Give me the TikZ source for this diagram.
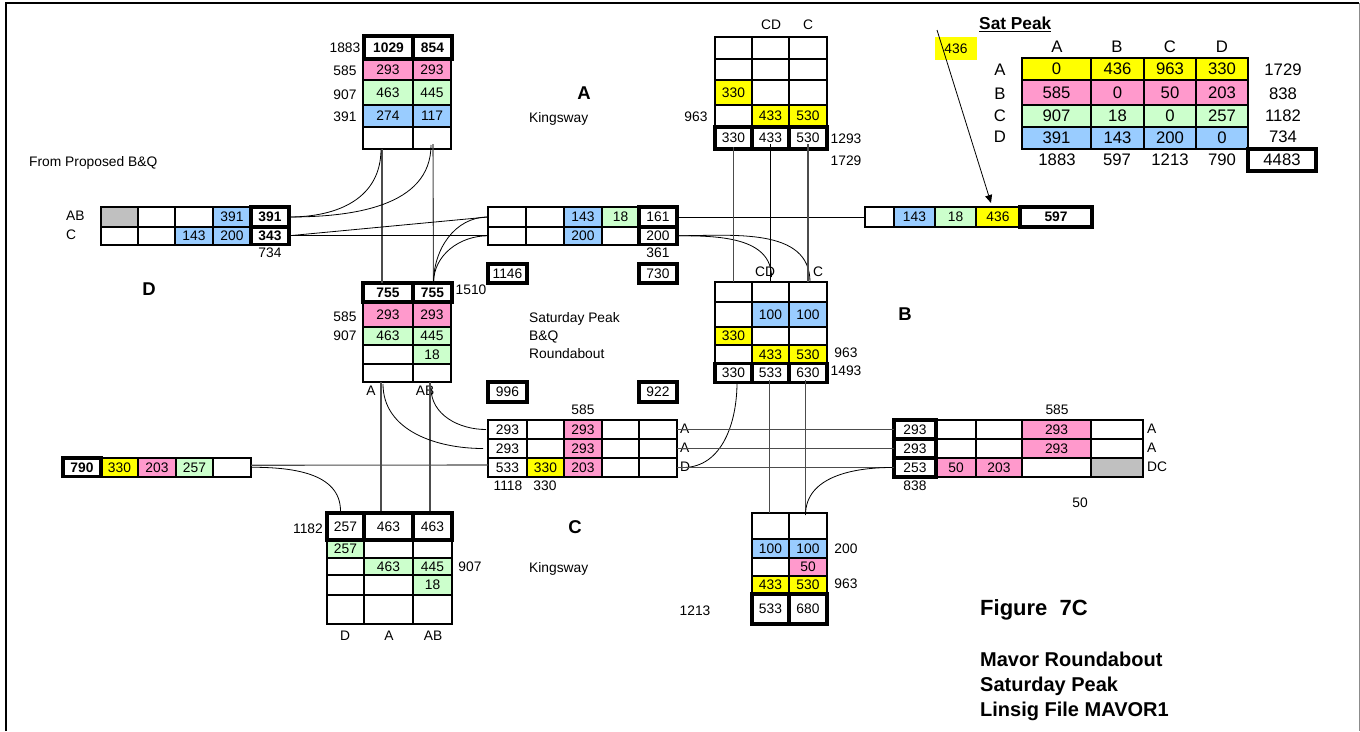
\documentclass[tikz,border=0pt]{standalone}
\usepackage{fontspec}
\setmainfont{Liberation Sans}
\usetikzlibrary{arrows.meta,calc}

\definecolor{pnk}{HTML}{FF99CC}
\definecolor{grn}{HTML}{CCFFCC}
\definecolor{blu}{HTML}{99CCFF}
\definecolor{yel}{HTML}{FFFF00}
\definecolor{gry}{HTML}{C0C0C0}

% one row of a flow table: name, top, bottom, then left/right/fill/text per cell
\newcommand{\trow}[5][]{%
  \foreach \xa/\xb/\fc/\txt [count=\i] in {#5}{%
    \pgfmathsetmacro{\cellw}{\xb-\xa}%
    \pgfmathsetmacro{\cellh}{#4-#3}%
    \node[cell,#1,fill=\fc,minimum width=\cellw pt,minimum height=\cellh pt]
      (#2\i) at ({(\xa+\xb)/2},{(#3+#4)/2}) {\txt};
  }%
}

\begin{document}
\begin{tikzpicture}[
  x=1pt, y=-1pt,
  font=\fontsize{13.8}{15}\selectfont,
  cell/.style={draw, line width=2pt, inner sep=0pt, outer sep=0pt},
  thk/.style={line width=3.3pt},
  note/.style={inner sep=0pt},
  lft/.style={inner sep=0pt, anchor=west, text depth=0pt},
  big/.style={inner sep=0pt, font=\fontsize{16.7}{18}\selectfont},
  arm/.style={inner sep=0pt, font=\fontsize{18.5}{20}\selectfont\bfseries},
  ttl/.style={inner sep=0pt, anchor=west, text depth=0pt, font=\fontsize{20}{22}\selectfont\bfseries},
  link/.style={line width=0.8pt},
  linkg/.style={line width=1.1pt, black!70}
]
\useasboundingbox (0,0) rectangle (1360,731);
\draw[line width=2pt] (5.5,731) -- (5.5,3) -- (1359,3);
\draw[line width=1pt, black!45] (1359,3) -- (1359,731);

% north arm, left
\trow{nl2}{59}{80}{363/413/pnk/293, 413/451/pnk/293}
\trow{nl3}{80}{105}{363/413/grn/463, 413/451/grn/445}
\trow{nl4}{105}{127}{363/413/blu/274, 413/451/blu/117}
\trow{nl5}{127}{149}{363/413/white/{}, 413/451/white/{}}
\trow[thk]{nl1}{36}{59}{364/413/white/\textbf{1029}, 413/452/white/\textbf{854}}
\node[note] (lnl1) at (345,48) {1883};
\node[note] (lnl2) at (345,71) {585};
\node[note] (lnl3) at (345,95) {907};
\node[note] (lnl4) at (345,117) {391};

% north arm, right
\trow{nr1}{37}{59}{715/752/white/{}, 752/789/white/{}, 789/827/white/{}}
\trow{nr2}{59}{80}{715/752/white/{}, 752/789/white/{}, 789/827/white/{}}
\trow{nr3}{80}{105}{715/752/yel/330, 752/789/white/{}, 789/827/white/{}}
\trow{nr4}{105}{127}{715/752/white/{}, 752/789/yel/433, 789/827/yel/530}
\trow[thk]{nr5}{127}{149}{715/752/white/330, 752/789/white/433, 789/827/white/530}
\node[note] (lnr1) at (771,25) {CD};
\node[note] (lnr2) at (808,25) {C};
\node[note] (lnr3) at (696,117) {963};
\node[note] (lnr4) at (846,139) {1293};
\node[note] (lnr5) at (846,161) {1729};

\node[arm] (armA) at (584,93) {A};
\node[lft] (kwA) at (529,117) {Kingsway};
\node[lft] (frm) at (29,161) {From Proposed B\&Q};

% west arm
\trow{wa1}{207}{227}{101/138/gry/{}, 138/175/white/{}, 175/213/white/{}, 213/251/blu/391}
\trow{wa2}{227}{244.5}{101/138/white/{}, 138/175/white/{}, 175/213/blu/143, 213/251/blu/200}
\trow[thk]{wa15}{207}{227}{251/289/white/\textbf{391}}
\trow[thk]{wa25}{227}{244.5}{251/289/white/\textbf{343}}
\node[lft] (lwa1) at (66,216) {AB};
\node[lft] (lwa2) at (66,235) {C};
\node[note] (lwa3) at (270,253) {734};
\node[arm] (armD) at (149,289) {D};

% middle row
\trow{ma1}{207}{227}{488/526/white/{}, 526/564/white/{}, 564/602/blu/143, 602/639/grn/18}
\trow{ma2}{227}{244.5}{488/526/white/{}, 526/564/white/{}, 564/602/blu/200, 602/639/white/{}}
\trow[thk]{ma15}{207}{227}{639/677/white/161}
\trow[thk]{ma25}{227}{244.5}{639/677/white/200}
\node[note] (lma) at (658,253) {361};

% east arm
\trow{ea1}{207}{227}{865/894/white/{}, 894/935/blu/143, 935/976/grn/18, 976/1020/yel/436}
\trow[thk]{ea15}{207}{227}{1020/1092/white/\textbf{597}}

% junction boxes
\trow[thk]{bxa}{264}{283}{488/527/white/1146}
\trow[thk]{bxb}{264}{283}{639/677/white/730}
\trow[thk]{bxc}{382}{402}{488/527/white/996}
\trow[thk]{bxd}{382}{402}{639/677/white/922}

% centre, left
\trow{cl2}{302}{327}{363/413/pnk/293, 413/451/pnk/293}
\trow{cl3}{327}{345}{363/413/grn/463, 413/451/grn/445}
\trow{cl4}{345}{364}{363/413/white/{}, 413/451/grn/18}
\trow{cl5}{364}{382}{363/413/white/{}, 413/451/white/{}}
\trow[thk]{cl1}{283}{302}{363/413/white/\textbf{755}, 413/452/white/\textbf{755}}
\node[note] (lcl1) at (345,317) {585};
\node[note] (lcl2) at (345,336) {907};
\node[note] (lcl3) at (471,290) {1510};
\node[note] (lcl4) at (371,391) {A};
\node[note] (lcl5) at (425,391) {AB};
\node[lft] (sat1) at (529,317) {Saturday Peak};
\node[lft] (sat2) at (529,336) {B\&Q};
\node[lft] (sat3) at (529,353) {Roundabout};

% centre, right
\trow{cr1}{282}{302}{715/752/white/{}, 752/789/white/{}, 789/827/white/{}}
\trow{cr2}{302}{327}{715/752/white/{}, 752/789/blu/100, 789/827/blu/100}
\trow{cr3}{327}{345}{715/752/yel/330, 752/789/white/{}, 789/827/white/{}}
\trow{cr4}{345}{363.5}{715/752/white/{}, 752/789/yel/433, 789/827/yel/530}
\trow[thk]{cr5}{363.5}{382.5}{715/752/white/330, 752/789/white/533, 789/827/white/630}
\node[note] (lcr1) at (765,272) {CD};
\node[note] (lcr2) at (818,272) {C};
\node[note] (lcr3) at (846,353) {963};
\node[note] (lcr4) at (846,371) {1493};
\node[arm] (armB) at (905,314) {B};

% south row, middle
\trow{sm1}{420}{439}{488/527/white/293, 527/564/white/{}, 564/602/pnk/293, 602/639/white/{}, 639/677/white/{}}
\trow{sm2}{439}{458}{488/527/white/293, 527/564/white/{}, 564/602/pnk/293, 602/639/white/{}, 639/677/white/{}}
\trow{sm3}{458}{477}{488/527/white/533, 527/564/yel/330, 564/602/pnk/203, 602/639/white/{}, 639/677/white/{}}
\node[note] (lsm1) at (583,410) {585};
\node[lft] (lsm2) at (680,429) {A};
\node[lft] (lsm3) at (680,448) {A};
\node[lft] (lsm4) at (680,467) {D};
\node[note] (lsm5) at (508,486) {1118};
\node[note] (lsm6) at (545,486) {330};

% south row, east
\trow{se1}{420}{439}{936/976/white/{}, 976/1022/white/{}, 1022/1091/pnk/293, 1091/1143/white/{}}
\trow{se2}{439}{458}{936/976/white/{}, 976/1022/white/{}, 1022/1091/pnk/293, 1091/1143/white/{}}
\trow{se3}{458}{477}{936/976/pnk/50, 976/1022/pnk/203, 1022/1091/white/{}, 1091/1143/gry/{}}
\trow[thk]{se11}{420}{439}{894/936/white/293}
\trow[thk]{se21}{439}{458}{894/936/white/293}
\trow[thk]{se31}{458}{477}{894/936/white/253}
\node[note] (lse1) at (1057,410) {585};
\node[lft] (lse2) at (1147,429) {A};
\node[lft] (lse3) at (1147,448) {A};
\node[lft] (lse4) at (1147,467) {DC};
\node[note] (lse5) at (915,486) {838};
\node[note] (lse6) at (1080,503) {50};

% west row, lower
\trow{wb1}{458}{476.5}{101/138/yel/330, 138/176/pnk/203, 176/213/grn/257, 213/251/white/{}}
\trow[thk]{wb0}{458}{476.5}{63/101/white/\textbf{790}}

% south arm, left
\trow{sl2}{540}{558}{327/364/grn/257, 364/413/white/{}, 413/452/white/{}}
\trow{sl3}{558}{575}{327/364/white/{}, 364/413/grn/463, 413/452/grn/445}
\trow{sl4}{575}{595}{327/364/white/{}, 364/413/white/{}, 413/452/grn/18}
\trow{sl5}{595}{624}{327/364/white/{}, 364/413/white/{}, 413/452/white/{}}
\trow[thk]{sl1}{513}{540}{327/364/white/257, 364/413/white/463, 413/452/white/463}
\node[note] (lsl1) at (308,529) {1182};
\node[note] (lsl2) at (470,567) {907};
\node[note] (lsl3) at (345,636) {D};
\node[note] (lsl4) at (389,636) {A};
\node[note] (lsl5) at (433,636) {AB};
\node[arm] (armC) at (575,527) {C};
\node[lft] (kwC) at (529,567) {Kingsway};

% south arm, right
\trow{sr1}{513}{539}{752/789/white/{}, 789/827/white/{}}
\trow{sr2}{539}{558}{752/789/blu/100, 789/827/blu/100}
\trow{sr3}{558}{576}{752/789/white/{}, 789/827/pnk/50}
\trow{sr4}{576}{594}{752/789/yel/433, 789/827/yel/530}
\trow[thk]{sr5}{594}{624}{752/789/white/533, 789/827/white/680}
\node[note] (lsr1) at (846,549) {200};
\node[note] (lsr2) at (846,584) {963};
\node[note] (lsr3) at (695,611) {1213};

% sat peak matrix
\node[inner sep=0pt, anchor=west, font=\fontsize{17.3}{19}\selectfont\bfseries]
  (sph) at (979,24) {\underline{Sat Peak}};
\node[fill=yel, minimum width=42pt, minimum height=23pt, inner sep=0pt] (yq) at (956,48.5) {436};
\begin{scope}[font=\fontsize{16.7}{18}\selectfont]
\trow{sp1}{58}{80}{1022/1091/yel/0, 1091/1144/yel/436, 1144/1196/yel/963, 1196/1248/yel/330}
\trow{sp2}{80}{105}{1022/1091/pnk/585, 1091/1144/pnk/0, 1144/1196/pnk/50, 1196/1248/pnk/203}
\trow{sp3}{105}{127}{1022/1091/grn/907, 1091/1144/grn/18, 1144/1196/grn/0, 1196/1248/grn/257}
\trow{sp4}{127}{149}{1022/1091/blu/391, 1091/1144/blu/143, 1144/1196/blu/200, 1196/1248/blu/0}
\trow[thk]{sp5}{149}{171}{1248/1316/white/4483}
\foreach \nm/\xp in {A/1057, B/1117, C/1170, D/1222}{
  \node[big] (ch\nm) at (\xp,47) {\nm};
}
\foreach \nm/\yp/\tot in {A/70/1729, B/94/838, C/116/1182, D/137/734}{
  \node[big] (rh\nm) at (1000,\yp) {\nm};
  \node[big] (rt\nm) at (1283,\yp) {\tot};
}
\foreach \tot/\xp in {1883/1057, 597/1117, 1213/1170, 790/1222}{
  \node[big] (ct\tot) at (\xp,160) {\tot};
}
\end{scope}

% title
\node[ttl, font=\fontsize{22}{24}\selectfont\bfseries] (fig) at (980,608) {Figure~~7C};
\node[ttl] (tt1) at (980,659) {Mavor Roundabout};
\node[ttl] (tt2) at (980,684) {Saturday Peak};
\node[ttl] (tt3) at (980,709) {Linsig File MAVOR1};

% connectors
\draw[linkg] ([xshift=-6pt]nl51.south) -- ([xshift=-6pt]cl11.north);
\draw[linkg] ([xshift=1pt,yshift=5pt]nl52.south) -- ([xshift=1pt]cl12.north);
\draw[link] (wa151.east) to[out=0,in=-90,looseness=1.1] ([xshift=-7pt]nl51.south);
\draw[link] (wa151.east) to[out=0,in=-90] ([xshift=-1pt,yshift=4pt]nl52.south);
\draw[link] (wa251.east) -- (ma11.west);
\draw[link] (wa251.east) -- (ma21.west);
\draw[link] ([xshift=1pt]cl12.north) to[out=90,in=180] (ma11.west);
\draw[link] ([xshift=1pt]cl12.north) to[out=90,in=180] (ma21.west);
\draw[link] (ma151.east) -- (ea11.west);
\draw[link] (ma251.east) to[out=0,in=90] ([xshift=1pt,yshift=5pt]cr12.north);
\draw[link] (ma251.east) to[out=0,in=90] ([xshift=2pt]cr13.north);
\draw[linkg] ([yshift=2pt]nr51.south) -- (cr11.north);
\draw[link] ([yshift=5pt]nr52.south) -- (cr12.north);
\draw[linkg] ([yshift=5pt]nr53.south) -- (cr13.north);
\draw[linkg] ([xshift=-7pt]cl51.south) -- ([xshift=-7.5pt,yshift=2pt]sl12.north);
\draw[linkg] ([xshift=-2pt]cl52.south) -- ([xshift=-2.5pt,yshift=2pt]sl13.north);
\draw[link] ([xshift=-5pt,yshift=-2pt]cl51.south) to[out=-90,in=180] ([xshift=-5pt]sm21.west);
\draw[link] ([xshift=-1pt,yshift=-6pt]cl52.south) to[out=-90,in=180] ([xshift=-2pt]sm11.west);
\draw[link] ([xshift=3.5pt]cr51.south) to[out=-90,in=0] ([xshift=6pt]sm35.east);
\draw[linkg] (sm15.east) -- (se111.west);
\draw[linkg] (sm25.east) -- (se211.west);
\draw[linkg] (sm35.east) -- (se311.west);
\draw[linkg] ([yshift=2pt]wb14.east) -- ([yshift=2.5pt]sm31.west);
\draw[link] (wb14.east) to[out=0,in=90] ([xshift=-5pt,yshift=2pt]sl11.north);
\draw[linkg] ([xshift=-1pt,yshift=3pt]cr52.south) -- ([xshift=-1pt]sr11.north);
\draw[linkg] ([xshift=-2.5pt,yshift=3pt]cr53.south) -- ([xshift=-2.5pt,yshift=-2pt]sr12.north);
\draw[link] ([xshift=-2pt]se311.west) to[out=180,in=90] ([xshift=-2.5pt,yshift=-2pt]sr12.north);
\coordinate (arrtop) at (937,30);
\draw[link, -{Triangle[length=8pt,width=7pt]}] (arrtop) -- ([xshift=-7pt,yshift=4pt]ea14.north);

\end{tikzpicture}
\end{document}
